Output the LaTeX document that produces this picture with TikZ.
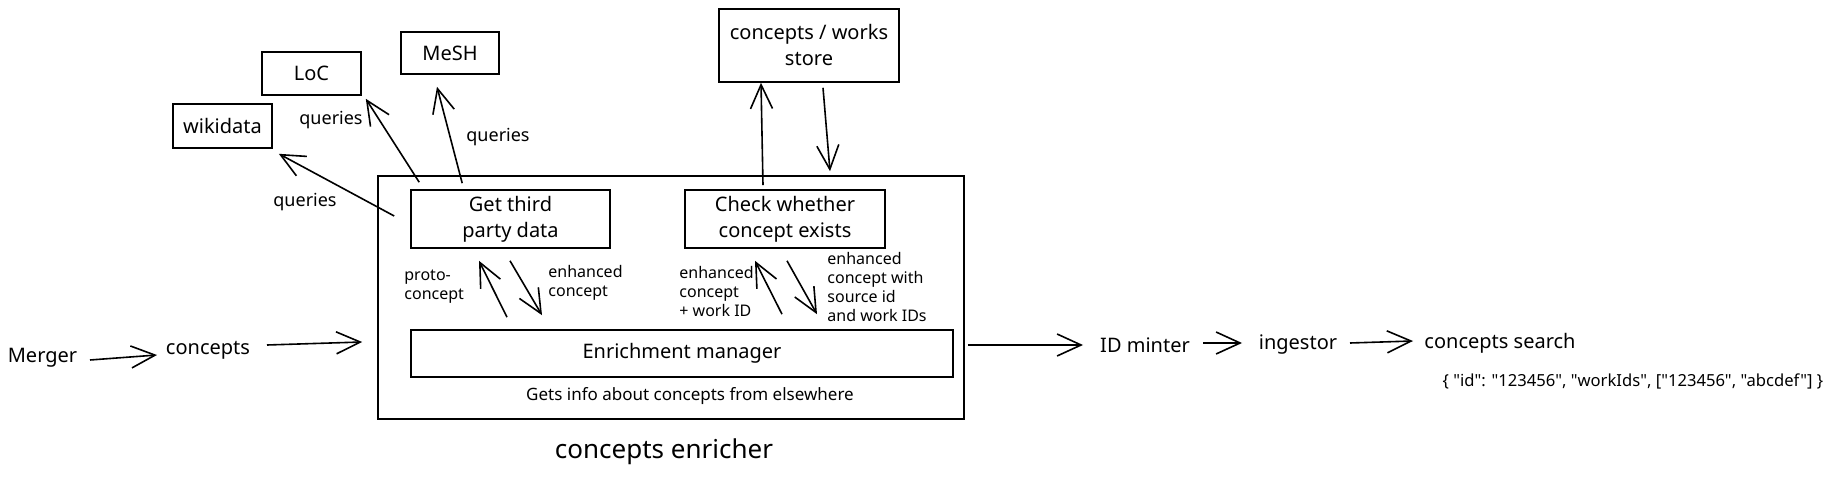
\documentclass[tikz,border=0pt]{standalone}
\usepackage{fontspec}
\setmainfont{Noto Sans}
\newfontfamily\jsonfont{Noto Sans}[Ligatures=TeXOff]
\usetikzlibrary{arrows.meta}
\begin{document}
\begin{tikzpicture}[x=0.5pt,y=-0.5pt,
  box/.style={draw,line width=0.8pt,inner sep=0pt,align=center,font=\fontsize{10}{13}\selectfont},
  lbl/.style={inner sep=0pt,font=\fontsize{10}{13}\selectfont},
  qlbl/.style={inner sep=0pt,font=\fontsize{9}{11}\selectfont},
  small/.style={inner sep=0pt,align=left,anchor=west,font=\fontsize{8}{9.5}\selectfont},
  arr/.style={line width=0.8pt,-{Straight Barb[length=12pt,width=11pt,line width=0.8pt]}},
]
\useasboundingbox (0,0) rectangle (1837,480);
% main enricher box and inner boxes
\node[box,minimum width=293pt,minimum height=121.5pt] (enr) at (671,297.5) {};
\node[box,minimum width=99.5pt,minimum height=29pt] (g) at (510.5,219) {Get third\\party data};
\node[box,minimum width=100pt,minimum height=29pt] (c) at (785,219) {Check whether\\concept exists};
\node[box,minimum width=271pt,minimum height=23.5pt] (em) at (682,353.5) {Enrichment manager};
\node[lbl,font=\fontsize{8.5}{10}\selectfont] (gi) at (690,396) {Gets info about concepts from elsewhere};
\node[lbl,font=\fontsize{13}{15}\selectfont] (ce) at (664,452) {concepts enricher};
% external sources
\node[box,minimum width=49.5pt,minimum height=22pt] (wd) at (222.5,126) {wikidata};
\node[box,minimum width=49.5pt,minimum height=21.5pt] (loc) at (311.5,73.5) {LoC};
\node[box,minimum width=49pt,minimum height=21pt] (mesh) at (450,53) {MeSH};
\node[box,minimum width=90pt,minimum height=36.5pt] (st) at (809,45.5) {concepts / works\\store};
% pipeline labels
\node[lbl] (mg) at (42.5,358) {Merger};
\node[lbl] (cs) at (208,350) {concepts};
\node[lbl] (idm) at (1145,345) {ID minter};
\node[lbl] (ing) at (1298,345) {ingestor};
\node[lbl] (cse) at (1500,343) {concepts search};
\node[inner sep=0pt,font=\jsonfont\fontsize{8.3}{10}\selectfont] (js) at (1633,381) {\{ "id": "123456", "workIds", ["123456", "abcdef"] \}};
% query labels
\node[qlbl] (q1) at (305,202) {queries};
\node[qlbl] (q2) at (331,120) {queries};
\node[qlbl] (q3) at (498,137) {queries};
% inner labels
\node[small] (l1) at (404,287) {proto-\\concept};
\node[small] (l2) at (548,283) {enhanced\\concept};
\node[small] (l3) at (679,292) {enhanced\\concept\\+ work ID};
\node[small] (l4) at (827,287) {enhanced\\concept with\\source id\\and work IDs};
% pipeline arrows
\draw[arr] ([shift={(47.5,2)}]mg.center) -- ([shift={(-51,5)}]cs.center);
\draw[arr] ([shift={(59,-5)}]cs.center) -- ([shift={(-15,44.5)}]enr.west);
\draw[arr] ([shift={(3,47.5)}]enr.east) -- ([shift={(-62,0)}]idm.center);
\draw[arr] ([shift={(58,-2)}]idm.center) -- ([shift={(-56,-2)}]ing.center);
\draw[arr] ([shift={(52,-2)}]ing.center) -- ([shift={(-87,-2)}]cse.center);
% query arrows
\draw[arr] ([shift={(-16,-3)}]g.west) -- ([shift={(6,5)}]wd.south east);
\draw[arr] ([shift={(9,-7)}]g.north west) -- ([shift={(4,3)}]loc.south east);
\draw[arr] ([shift={(52,-6)}]g.north west) -- ([shift={(-13,12)}]mesh.south);
% store arrows
\draw[arr] ([shift={(-22,-4)}]c.north) -- ([shift={(-48,0)}]st.south);
\draw[arr] ([shift={(14,5)}]st.south) -- ([shift={(45,-18)}]c.north);
% inner arrows
\draw[arr] ([shift={(-175,-12)}]em.north) -- ([shift={(-31.5,12)}]g.south);
\draw[arr] ([shift={(-0.5,12)}]g.south) -- ([shift={(-140,-14)}]em.north);
\draw[arr] ([shift={(100,-15)}]em.north) -- ([shift={(-30,12)}]c.south);
\draw[arr] ([shift={(2,12)}]c.south) -- ([shift={(135,-15)}]em.north);
\end{tikzpicture}
\end{document}
